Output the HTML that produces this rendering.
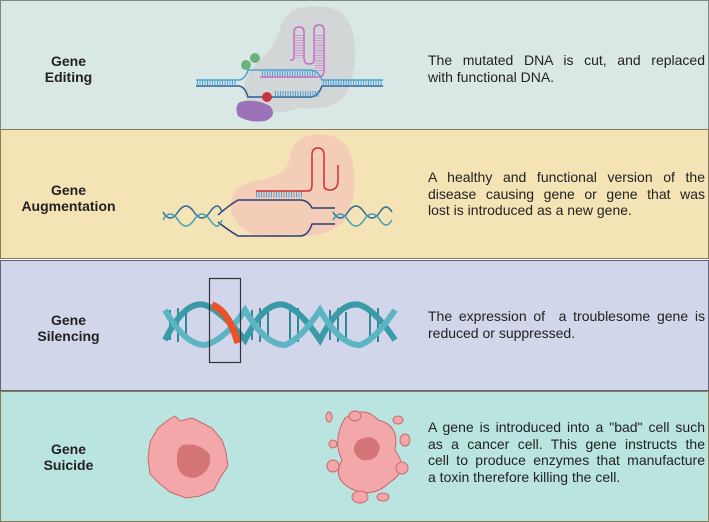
<!DOCTYPE html>
<html><head><meta charset="utf-8"><style>
body{margin:0;width:709px;height:522px;overflow:hidden;background:#fff;font-family:"Liberation Sans",sans-serif}
.p{position:absolute;left:0;width:707px;border:1px solid #6f6b5e}
.lab{position:absolute;left:0;width:137px;text-align:center;font-weight:bold;font-size:14px;line-height:16px;color:#222}
.txt{position:absolute;left:428px;width:277px;font-size:14px;line-height:16.5px;color:#222}
.txt span{display:block;text-align:justify;text-align-last:justify;white-space:nowrap}
.txt span.l{text-align-last:left}
svg{position:absolute;left:0;top:0}
</style></head><body>
<div class="p" style="top:0;height:128px;background:#dae8e5;border-color:#7d8a88"></div>
<div class="p" style="top:129px;height:128px;background:#f4e3b5;border-color:#8a7a55"></div>
<div class="p" style="top:260px;height:129px;background:#d1d6ea;border-color:#5e6378"></div>
<div class="p" style="top:391px;height:129px;background:#b9e4df;border-color:#8a7a55"></div>

<div class="lab" style="top:53px">Gene<br>Editing</div>
<div class="lab" style="top:182px">Gene<br>Augmentation</div>
<div class="lab" style="top:312px">Gene<br>Silencing</div>
<div class="lab" style="top:441px">Gene<br>Suicide</div>

<div class="txt" style="top:52px"><span>The mutated DNA is cut, and replaced</span><span class="l">with functional DNA.</span></div>
<div class="txt" style="top:169px"><span>A healthy and functional version of the</span><span>disease causing gene or gene that was</span><span class="l">lost is introduced as a new gene.</span></div>
<div class="txt" style="top:308px"><span>The expression of&nbsp; a troublesome gene is</span><span class="l">reduced or suppressed.</span></div>
<div class="txt" style="top:419px"><span>A gene is introduced into a "bad" cell such</span><span>as a cancer cell. This gene instructs the</span><span>cell to produce enzymes that manufacture</span><span class="l">a toxin therefore killing the cell.</span></div>

<svg width="709" height="522">
<!-- Gene editing -->
<path d="M300 8 Q345 0 352 30 Q360 60 348 90 Q338 112 300 108 Q270 118 250 105 Q235 90 255 65 Q275 48 280 28 Q285 12 300 8Z" fill="#d2d4d4" opacity=".9"/>
<g stroke="#4aa3d8" stroke-width="1.5" fill="none">
<path d="M196 80 H238 Q245 80 248 70 H310 Q318 70 322 80 H383"/>
<path d="M196 86 H238 Q245 86 248 97 H310 Q318 97 322 86 H383" stroke="#2d5d8e"/>
</g>
<path d="M197 83 H237 M323 83 H382 M262 74 H316 M275 94 H320" stroke="#4aa3d8" stroke-width="6" stroke-dasharray="1 1.5" fill="none"/>
<path d="M260 77 H318 Q324 77 324 70 V30 Q324 25 319 25 Q314 25 314 30 V60 Q314 64 309 64 Q304 64 304 58 V32 Q304 27 299 27 Q294 27 294 32 V58 Q294 60 290 60" stroke="#c86cc8" stroke-width="1.5" fill="none"/>
<path d="M299 35 V58 M319 35 V72" stroke="#c86cc8" stroke-width="8" stroke-dasharray="1 1.5" fill="none" transform="rotate(0)" opacity=".6"/>
<circle cx="246" cy="65" r="5" fill="#6ab37a"/><circle cx="255" cy="58" r="5" fill="#6ab37a"/>
<circle cx="267" cy="97" r="5" fill="#c8323c"/>
<path d="M240 102 Q255 98 270 106 Q278 116 265 121 Q248 123 238 116 Q234 106 240 102Z" fill="#9b72b8"/>
<!-- Gene augmentation -->
<path d="M310 135 Q345 130 352 160 Q360 190 345 220 Q325 240 290 236 Q245 242 232 215 Q225 185 260 180 Q290 175 290 155 Q295 138 310 135Z" fill="#f2c9b8" opacity=".85"/>
<g stroke="#2c3e7a" stroke-width="1.5" fill="none">
<path d="M218 215 Q228 206 238 200 H300 Q308 200 312 208 H335"/>
<path d="M218 222 Q228 230 238 236 H300 Q308 236 312 224 H335"/>
<path d="M163 212 Q170 224 178 212 Q186 200 194 212 Q202 224 210 212 Q218 200 222 212" stroke="#2c6a9a"/>
<path d="M163 220 Q170 208 178 220 Q186 232 194 220 Q202 208 210 220 Q218 232 222 220" stroke="#3aa0b8"/>
<path d="M333 212 Q340 224 348 212 Q356 200 364 212 Q372 224 380 212 Q386 202 392 212" stroke="#2c6a9a"/>
<path d="M333 220 Q340 208 348 220 Q356 232 364 220 Q372 208 380 220 Q386 230 392 220" stroke="#3aa0b8"/>
</g>
<path d="M256 194 H303" stroke="#4aa3d8" stroke-width="7" stroke-dasharray="1 1.5"/>
<path d="M256 191 H308 Q312 191 312 185 V155 Q312 148 318 148 Q324 148 324 155 V185 Q324 190 330 190 Q338 190 338 180 V165" stroke="#d03030" stroke-width="1.5" fill="none"/>
<!-- Gene silencing -->
<path d="M170 310 V340 M178 308 V342 M186 312 V338 M252 310 V340 M260 308 V342 M268 312 V338 M290 310 V340 M298 308 V342 M330 310 V340 M338 308 V342 M346 312 V338 M370 310 V340 M378 308 V342" stroke="#2f8a96" stroke-width="2"/>
<g fill="none" stroke-width="6">
<path d="M165 340 Q185 300 205 305 Q220 310 245 340 Q265 300 285 305 Q300 310 320 340 Q340 300 360 305 Q375 310 395 340" stroke="#3a9aa8"/>
<path d="M165 310 Q185 345 205 345 Q225 340 245 310 Q265 345 285 345 Q300 340 320 310 Q340 345 360 345 Q375 340 395 310" stroke="#5db4c2"/>
</g>
<path d="M212 305 Q228 310 238 343" stroke="#e8532a" stroke-width="7" fill="none"/>
<rect x="209.5" y="278.5" width="31" height="84" fill="none" stroke="#333" stroke-width="1.2"/>
<!-- Gene suicide -->
<path d="M175 416 L180 421 L192 418 L200 422 L212 428 L222 440 L226 452 L228 466 L220 478 L214 490 L200 496 L186 498 L170 492 L160 484 L150 474 L148 458 L150 442 L158 428 L168 420Z" fill="#f4a7a8" stroke="#c8686c" stroke-width="1"/>
<path d="M183 445 Q200 442 210 455 Q212 472 195 478 Q178 478 177 462 Q176 448 183 445Z" fill="#d47678"/>
<g fill="#f4a7a8" stroke="#c8686c" stroke-width="1">
<path d="M345 418 Q365 405 378 420 Q400 425 395 450 Q410 470 390 482 Q372 500 350 488 Q332 478 342 460 Q332 440 345 418Z"/>
<ellipse cx="329" cy="417" rx="3" ry="5"/><ellipse cx="355" cy="416" rx="6" ry="5"/><ellipse cx="398" cy="420" rx="5" ry="4"/>
<ellipse cx="333" cy="444" rx="4" ry="4"/><ellipse cx="333" cy="466" rx="6" ry="6"/><ellipse cx="360" cy="497" rx="8" ry="6"/>
<ellipse cx="383" cy="497" rx="6" ry="4"/><ellipse cx="402" cy="468" rx="6" ry="6"/><ellipse cx="405" cy="440" rx="5" ry="6"/>
</g>
<path d="M358 440 Q375 432 380 447 Q378 462 362 460 Q348 452 358 440Z" fill="#d47678"/>
</svg>
</body></html>
